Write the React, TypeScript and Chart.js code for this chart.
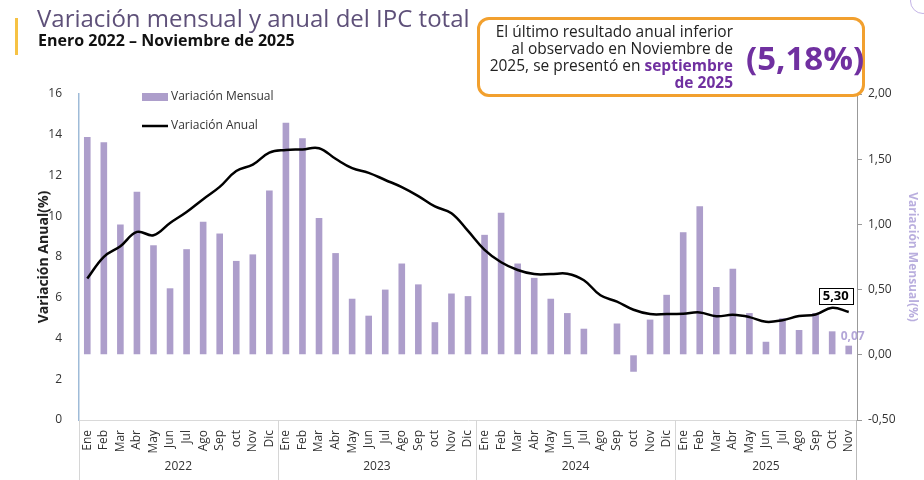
import React, { useEffect, useRef } from "react";
import { Chart, registerables } from "chart.js";

Chart.register(...registerables);

const years = ["2022", "2023", "2024", "2025"];
const monthsByYear: string[][] = [
  ["Ene", "Feb", "Mar", "Abr", "May", "Jun", "Jul", "Ago", "Sep", "oct", "Nov", "Dic"],
  ["Ene", "Feb", "Mar", "Abr", "May", "Jun", "Jul", "Ago", "Sep", "oct", "Nov", "Dic"],
  ["Ene", "Feb", "Mar", "Abr", "May", "Jun", "Jul", "Ago", "Sep", "oct", "Nov", "Dic"],
  ["Ene", "Feb", "Mar", "Abr", "May", "Jun", "Jul", "Ago", "Sep", "Oct", "Nov"],
];
const categories: string[] = monthsByYear.flat();

const variacionMensual = [
  1.67, 1.63, 1.0, 1.25, 0.84, 0.51, 0.81, 1.02, 0.93, 0.72, 0.77, 1.26,
  1.78, 1.66, 1.05, 0.78, 0.43, 0.3, 0.5, 0.7, 0.54, 0.25, 0.47, 0.45,
  0.92, 1.09, 0.7, 0.59, 0.43, 0.32, 0.2, 0.0, 0.24, -0.13, 0.27, 0.46,
  0.94, 1.14, 0.52, 0.66, 0.32, 0.1, 0.28, 0.19, 0.32, 0.18, 0.07,
];

const variacionAnual = [
  6.94, 8.01, 8.53, 9.23, 9.07, 9.67, 10.21, 10.84, 11.44, 12.22, 12.53, 13.12,
  13.25, 13.28, 13.34, 12.82, 12.36, 12.13, 11.78, 11.43, 10.99, 10.48, 10.15, 9.28,
  8.35, 7.74, 7.36, 7.16, 7.16, 7.18, 6.86, 6.12, 5.81, 5.41, 5.2, 5.2,
  5.22, 5.28, 5.09, 5.16, 5.05, 4.82, 4.9, 5.1, 5.18, 5.51, 5.3,
];

const FONT = "'Open Sans', 'Noto Sans', sans-serif";
const BAR_COLOR = "#ad9ecb";

const fmt2 = (v: number) => v.toFixed(2).replace(".", ",");

const overlayPlugin = {
  id: "overlayPlugin",
  afterDraw(chart: any) {
    const ctx = chart.ctx as CanvasRenderingContext2D;
    const x = chart.scales.x;
    const yL = chart.scales.y;
    const yR = chart.scales.y1;
    const area = chart.chartArea;
    ctx.save();

    // Year separators and labels
    let start = 0;
    const half = (x.getPixelForValue(1) - x.getPixelForValue(0)) / 2;
    ctx.strokeStyle = "#d6d6d6";
    ctx.lineWidth = 1;
    ctx.font = `12px ${FONT}`;
    ctx.fillStyle = "#333";
    ctx.textAlign = "center";
    ctx.textBaseline = "middle";
    monthsByYear.forEach((m, i) => {
      const end = start + m.length - 1;
      const left = x.getPixelForValue(start) - half;
      const right = i === monthsByYear.length - 1 ? area.right : x.getPixelForValue(end) + half;
      ctx.beginPath();
      ctx.moveTo(Math.round(left) + 0.5, area.bottom);
      ctx.lineTo(Math.round(left) + 0.5, 480);
      ctx.stroke();
      if (i === monthsByYear.length - 1) {
        ctx.beginPath();
        ctx.moveTo(Math.round(right) - 0.5, area.bottom);
        ctx.lineTo(Math.round(right) - 0.5, 480);
        ctx.strokeStyle = "#bbbbbb";
        ctx.stroke();
      }
      ctx.fillText(years[i], (left + right) / 2, 467);
      start = end + 1;
    });

    // Left axis title
    ctx.save();
    ctx.translate(44, (area.top + area.bottom) / 2);
    ctx.rotate(-Math.PI / 2);
    ctx.font = `bold 14px ${FONT}`;
    ctx.fillStyle = "#222";
    ctx.textAlign = "center";
    ctx.textBaseline = "middle";
    ctx.fillText("Variación Anual(%)", 0, 0);
    ctx.restore();

    // Legend
    ctx.fillStyle = BAR_COLOR;
    ctx.fillRect(142, 93, 26, 8);
    ctx.strokeStyle = "#000";
    ctx.lineWidth = 2.5;
    ctx.beginPath();
    ctx.moveTo(142, 126);
    ctx.lineTo(168, 126);
    ctx.stroke();
    ctx.fillStyle = "#333";
    ctx.textAlign = "left";
    ctx.textBaseline = "middle";
    ctx.font = `12px ${FONT}`;
    ctx.fillText("Variación Mensual", 171, 97);
    ctx.fillText("Variación Anual", 171, 126);

    // Data label 5,30 for last annual value
    const li = variacionAnual.length - 1;
    const px = x.getPixelForValue(li);
    const py = yL.getPixelForValue(variacionAnual[li]);
    ctx.font = `bold 13px ${FONT}`;
    const t = fmt2(variacionAnual[li]);
    const tw = ctx.measureText(t).width;
    const bx = px - 30;
    const by = py - 24;
    ctx.fillStyle = "#fff";
    ctx.fillRect(bx, by, tw + 8, 16);
    ctx.strokeStyle = "#000";
    ctx.lineWidth = 1;
    ctx.strokeRect(Math.round(bx) + 0.5, Math.round(by) + 0.5, Math.round(tw + 8), 16);
    ctx.fillStyle = "#000";
    ctx.textAlign = "left";
    ctx.fillText(t, bx + 4, by + 8.5);

    // Data label 0,07 for last monthly value
    const mi = variacionMensual.length - 1;
    const mx = x.getPixelForValue(mi);
    const my = yR.getPixelForValue(variacionMensual[mi]);
    ctx.font = `bold 12px ${FONT}`;
    ctx.fillStyle = "#b3a6d8";
    ctx.fillText(fmt2(variacionMensual[mi]), mx - 8, my - 9);

    ctx.restore();
  },
};

export default function App() {
  const ref = useRef<HTMLCanvasElement | null>(null);

  useEffect(() => {
    if (!ref.current) return;
    const chart = new Chart(ref.current, {
      type: "bar",
      data: {
        labels: categories,
        datasets: [
          {
            type: "line",
            label: "Variación Anual",
            data: variacionAnual,
            yAxisID: "y",
            borderColor: "#000",
            backgroundColor: "#000",
            borderWidth: 2.5,
            pointRadius: 0,
            tension: 0.4,
            order: 0,
          } as any,
          {
            type: "bar",
            label: "Variación Mensual",
            data: variacionMensual,
            yAxisID: "y1",
            backgroundColor: BAR_COLOR,
            categoryPercentage: 1,
            barPercentage: 0.4,
            order: 1,
          },
        ],
      },
      options: {
        responsive: false,
        animation: false,
        layout: { padding: { top: 94, left: 0, right: 0, bottom: 0 } },
        plugins: {
          legend: { display: false },
          tooltip: { enabled: false },
        },
        scales: {
          x: {
            grid: { display: false },
            border: { color: "#d9d9d9" },
            ticks: {
              minRotation: 90,
              maxRotation: 90,
              autoSkip: false,
              padding: 2,
              color: "#333",
              font: { family: FONT, size: 12 },
            },
            afterFit: (s: any) => {
              s.height = 60;
            },
          },
          y: {
            position: "left",
            min: 0,
            max: 16,
            ticks: {
              stepSize: 2,
              color: "#333",
              padding: 9,
              font: { family: FONT, size: 12 },
            },
            grid: { display: false },
            border: { color: "#9fbbd8", width: 1.5 },
            afterFit: (s: any) => {
              s.width = 79;
            },
          },
          y1: {
            position: "right",
            min: -0.5,
            max: 2,
            ticks: {
              stepSize: 0.5,
              color: "#333",
              padding: 6,
              font: { family: FONT, size: 12 },
              callback: (v: any) => fmt2(Number(v)),
            },
            grid: {
              drawOnChartArea: false,
              tickLength: 5,
              color: "#999",
            },
            border: { color: "#999" },
            title: {
              display: true,
              text: "Variación Mensual(%)",
              color: "#b9aede",
              font: { family: FONT, size: 12, weight: "bold" },
              padding: { top: 4, bottom: 0 },
            },
            afterFit: (s: any) => {
              s.width = 67;
            },
          },
        },
      },
      plugins: [overlayPlugin],
    });
    return () => chart.destroy();
  }, []);

  return (
    <div style={{ position: "fixed", left: 0, top: 0, width: 924, height: 480, background: "#fff", overflow: "hidden", fontFamily: FONT }}>
      <canvas ref={ref} width={924} height={480} style={{ position: "absolute", left: 0, top: 0 }} />
      <div style={{ position: "absolute", left: 15, top: 18, width: 3, height: 37, background: "#f6c244" }} />
      <div style={{ position: "absolute", left: 37, top: 2, fontSize: 24, color: "#5e5079", whiteSpace: "nowrap", lineHeight: "32px" }}>
        Variación mensual y anual del IPC total
      </div>
      <div style={{ position: "absolute", left: 38, top: 30, fontSize: 16, fontWeight: 700, color: "#111", whiteSpace: "nowrap", lineHeight: "20px" }}>
        Enero 2022 – Noviembre de 2025
      </div>
      <div
        style={{
          position: "absolute",
          left: 477,
          top: 17,
          width: 382,
          height: 74,
          border: "3px solid #f2a02e",
          borderRadius: 12,
          background: "#fff",
        }}
      >
        <div style={{ position: "absolute", right: 129, top: 3, textAlign: "right", fontSize: 15.5, lineHeight: "17px", color: "#222", whiteSpace: "nowrap" }}>
          El último resultado anual inferior
          <br />
          al observado en Noviembre de
          <br />
          2025, se presentó en <span style={{ color: "#7030a0", fontWeight: 700 }}>septiembre</span>
          <br />
          <span style={{ color: "#7030a0", fontWeight: 700 }}>de 2025</span>
        </div>
        <div style={{ position: "absolute", left: 266, top: 18, fontSize: 33, fontWeight: 700, color: "#7030a0", whiteSpace: "nowrap", lineHeight: "40px" }}>
          (5,18%)
        </div>
      </div>
      <div style={{ position: "absolute", left: 910, top: -12, width: 24, height: 24, borderRadius: "50%", border: "1.5px solid #c3b3e6" }} />
    </div>
  );
}
